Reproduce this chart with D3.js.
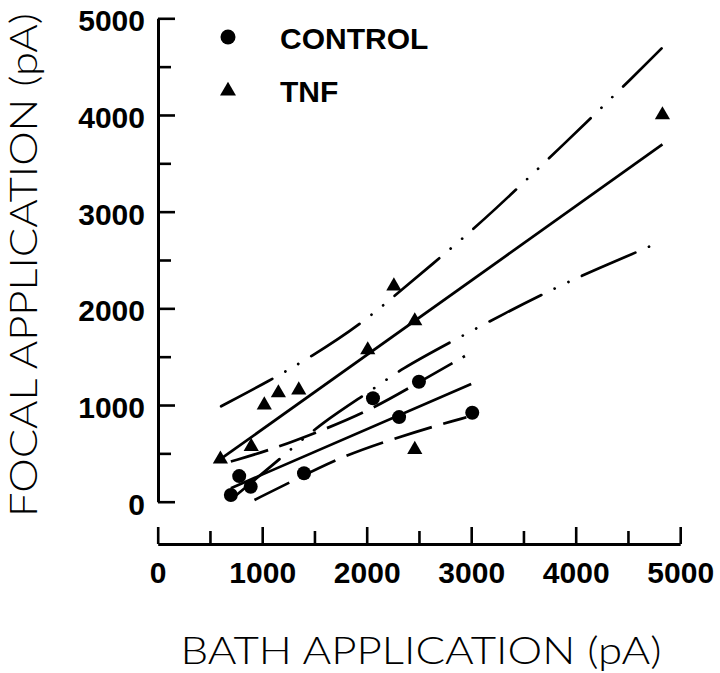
<!DOCTYPE html>
<html>
<head>
<meta charset="utf-8">
<script src="https://cdn.jsdelivr.net/npm/d3@7"></script>
<style>
body { margin: 0; background: #fff; }
svg { display: block; }
.tick text { font-family: "Liberation Sans", Arial, sans-serif; font-weight: bold; font-size: 30px; fill: #000; }
.legend { font-family: "Liberation Sans", Arial, sans-serif; font-weight: bold; font-size: 30px; fill: #000; }
.title { font-family: "Lato", sans-serif; font-weight: 300; font-size: 37px; fill: #000; }
</style>
</head>
<body>
<svg id="chart" width="720" height="673"></svg>
<script>
// values (pA)
var xTicks = [0, 1000, 2000, 3000, 4000, 5000];
var yTicks = [0, 1000, 2000, 3000, 4000, 5000];
var minorTicks = [500, 1500, 2500, 3500, 4500];

var controlX = [700, 780, 890, 1400, 2060, 2310, 2500, 3010];
var controlY = [70, 265, 155, 295, 1070, 875, 1240, 920];

var tnfX = [600, 895, 1020, 1155, 1350, 2010, 2260, 2460, 2460, 4830];
var tnfY = [440, 570, 1000, 1125, 1155, 1570, 2230, 1870, 540, 4000];

// regression lines
var controlFitX = [700, 3000];
var controlFitY = [140, 1218];
var tnfFitX = [600, 4830];
var tnfFitY = [440, 3695];

// confidence bands
var ctlUpX = [700, 1055, 1500, 2010, 2500, 2940];
var ctlUpY = [416, 527, 707, 931, 1236, 1507];
var ctlLoX = [926, 1278, 1757, 2219, 2682, 2954];
var ctlLoY = [18, 207, 465, 638, 793, 873];
var tnfUpX = [607, 1070, 1469, 1948, 2331, 2810, 3225, 3694, 4087, 4550, 4822];
var tnfUpY = [987, 1251, 1499, 1838, 2189, 2620, 3017, 3500, 3906, 4395, 4689];
var tnfLoX = [740, 926, 1188, 1580, 2054, 2322, 2810, 3330, 3816, 4215, 4693, 4822];
var tnfLoY = [57, 224, 459, 827, 1155, 1369, 1655, 1954, 2217, 2414, 2631, 2699];

var svg = d3.select("#chart");

var x = d3.scaleLinear().domain([0, 5000]).range([157.7, 680.2]);
var y = d3.scaleLinear().domain([0, 5000]).range([501.7, 18.3]);

function pts(xs, ys) {
    return xs.map(function(d, i) { return [d, ys[i]]; });
}

var straight = d3.line().x(function(d) { return x(d[0]); }).y(function(d) { return y(d[1]); });
var smooth = d3.line().x(function(d) { return x(d[0]); }).y(function(d) { return y(d[1]); }).curve(d3.curveBasis);

//y axis, ticks point inward
var yAxis = svg.append("g")
    .attr("transform", "translate(158,0)")
    .call(d3.axisLeft(y).tickValues(yTicks).tickSize(-17).tickSizeOuter(0).tickPadding(13).tickFormat(d3.format("d")));
yAxis.selectAll("text").attr("dy", "0.42em");
svg.append("g")
    .attr("transform", "translate(158,0)")
    .call(d3.axisLeft(y).tickValues(minorTicks).tickSize(-13).tickFormat(""))
    .select(".domain").remove();

//x axis, drawn lower and separate
var xAxis = svg.append("g")
    .attr("transform", "translate(0,544)")
    .call(d3.axisBottom(x).tickValues(xTicks).tickSize(-17).tickSizeOuter(0).tickPadding(18).tickFormat(d3.format("d")));
svg.append("g")
    .attr("transform", "translate(0,544)")
    .call(d3.axisBottom(x).tickValues(minorTicks).tickSize(-13).tickFormat(""))
    .select(".domain").remove();

svg.selectAll(".domain").attr("stroke", "#000").attr("stroke-width", 3);
svg.selectAll(".tick line").attr("stroke", "#000").attr("stroke-width", 2.6);

//lines
var lineW = 2.7;
var dashDot = "58,15,0.1,15,0.1,15";

svg.append("path").attr("d", straight(pts(controlFitX, controlFitY)))
    .attr("fill", "none").attr("stroke", "#000").attr("stroke-width", lineW);
svg.append("path").attr("d", smooth(pts(ctlUpX, ctlUpY)))
    .attr("fill", "none").attr("stroke", "#000").attr("stroke-width", lineW)
    .attr("stroke-dasharray", "39,12");
svg.append("path").attr("d", smooth(pts(ctlLoX, ctlLoY)))
    .attr("fill", "none").attr("stroke", "#000").attr("stroke-width", lineW)
    .attr("stroke-dasharray", "39,12");

svg.append("path").attr("d", straight(pts(tnfFitX, tnfFitY)))
    .attr("fill", "none").attr("stroke", "#000").attr("stroke-width", lineW);
svg.append("path").attr("d", smooth(pts(tnfUpX, tnfUpY)))
    .attr("fill", "none").attr("stroke", "#000").attr("stroke-width", lineW)
    .attr("stroke-linecap", "round").attr("stroke-dasharray", dashDot);
svg.append("path").attr("d", smooth(pts(tnfLoX, tnfLoY)))
    .attr("fill", "none").attr("stroke", "#000").attr("stroke-width", lineW)
    .attr("stroke-linecap", "round").attr("stroke-dasharray", dashDot);

//points
var tri = d3.symbol().type(d3.symbolTriangle).size(100);

svg.selectAll(".ctl").data(pts(controlX, controlY)).enter()
    .append("circle")
    .attr("class", "ctl")
    .attr("cx", function(d) { return x(d[0]); })
    .attr("cy", function(d) { return y(d[1]); })
    .attr("r", 7)
    .attr("fill", "#000");

svg.selectAll(".tnf").data(pts(tnfX, tnfY)).enter()
    .append("path")
    .attr("class", "tnf")
    .attr("d", tri)
    .attr("transform", function(d) { return "translate(" + x(d[0]) + "," + y(d[1]) + ")"; })
    .attr("fill", "#000");

//legend
svg.append("circle").attr("cx", 228).attr("cy", 37).attr("r", 7.5).attr("fill", "#000");
svg.append("text").attr("class", "legend").attr("x", 280).attr("y", 48.5).text("CONTROL");
svg.append("path").attr("d", d3.symbol().type(d3.symbolTriangle).size(110)())
    .attr("transform", "translate(228,91)").attr("fill", "#000");
svg.append("text").attr("class", "legend").attr("x", 280).attr("y", 101.5).text("TNF");

//axis titles
svg.append("text").attr("class", "title")
    .attr("x", 421).attr("y", 664)
    .attr("text-anchor", "middle")
    .attr("textLength", 481).attr("lengthAdjust", "spacingAndGlyphs")
    .text("BATH APPLICATION (pA)");
svg.append("text").attr("class", "title")
    .attr("transform", "translate(37,265) rotate(-90)")
    .attr("text-anchor", "middle")
    .attr("textLength", 504).attr("lengthAdjust", "spacingAndGlyphs")
    .text("FOCAL APPLICATION (pA)");
</script>
</body>
</html>
